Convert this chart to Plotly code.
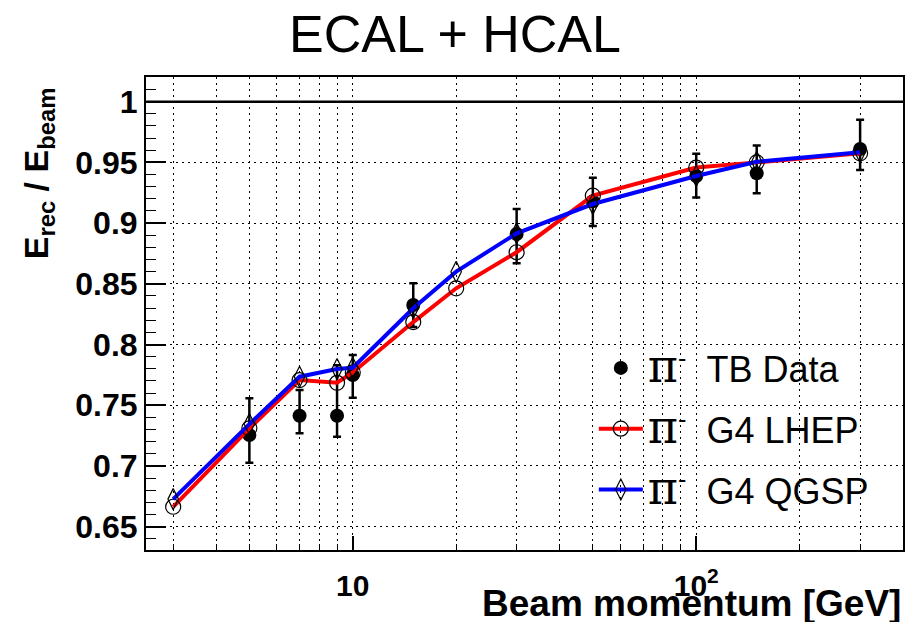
import plotly.graph_objects as go

# ---------------- data ----------------
momentum = [3, 5, 7, 9, 10, 15, 20, 30, 50, 100, 150, 300]

data_p = [5, 7, 9, 10, 15, 30, 50, 100, 150, 300]
data_y = [0.7255, 0.7414, 0.7414, 0.7749, 0.8325, 0.8910, 0.9180, 0.9388, 0.9410, 0.9610]
data_err_plus = [0.0302, 0.0211, 0.0416, 0.0165, 0.0179, 0.0206, 0.0194, 0.0182, 0.0228, 0.0240]
data_err_minus = [0.0229, 0.0144, 0.0174, 0.0187, 0.0180, 0.0241, 0.0204, 0.0178, 0.0165, 0.0173]

lhep_y = [0.6664, 0.7310, 0.7707, 0.7685, 0.7770, 0.8185, 0.8463, 0.8760, 0.9226, 0.9457, 0.9500, 0.9575]
qgsp_y = [0.6727, 0.7345, 0.7735, 0.7799, 0.7809, 0.8298, 0.8600, 0.8916, 0.9157, 0.9388, 0.9505, 0.9583]

x_major = [10, 100]
x_major_text = ["10", "10<sup>2</sup>"]
x_minor = [3, 4, 5, 6, 7, 8, 9, 20, 30, 40, 50, 60, 70, 80, 90, 200, 300]
y_ticks = [0.65, 0.7, 0.75, 0.8, 0.85, 0.9, 0.95, 1.0]
y_ticktext = ["0.65", "0.7", "0.75", "0.8", "0.85", "0.9", "0.95", "1"]

PI = ('<span style="font-family:\'DejaVu Serif\', \'Liberation Serif\', serif;font-size:46px">π</span>'
      '<sup>-</sup>  ')

fig = go.Figure()

fig.add_trace(go.Scatter(
    x=data_p, y=data_y, mode="markers", name=PI + "TB Data",
    legendgroup="a",
    marker=dict(symbol="circle", size=14, color="black"),
    error_y=dict(type="data", symmetric=False, array=data_err_plus, arrayminus=data_err_minus,
                 color="black", thickness=2.5, width=4),
))
fig.add_trace(go.Scatter(
    x=momentum, y=lhep_y, mode="lines+markers", name=PI + "G4 LHEP",
    legendgroup="b",
    line=dict(color="rgb(255,0,0)", width=4),
    marker=dict(symbol="circle-open", size=15, color="black", line=dict(width=1.2, color="black")),
))
fig.add_trace(go.Scatter(
    x=momentum, y=qgsp_y, mode="lines+markers", name=PI + "G4 QGSP",
    legendgroup="c",
    line=dict(color="rgb(0,0,255)", width=4),
    marker=dict(symbol="diamond-tall-open", size=15, color="black", line=dict(width=1.2, color="black")),
))

grid = dict(showgrid=True, gridcolor="black", gridwidth=1, griddash="2px,4px")

fig.update_layout(
    width=910, height=622,
    margin=dict(l=146, r=5, t=77, b=72),
    paper_bgcolor="white", plot_bgcolor="white",
    font=dict(family="Liberation Sans, Arial, Helvetica, sans-serif", color="black"),
    title=dict(text="ECAL + HCAL", x=0.5, xanchor="center", xref="container",
               y=0.945, yanchor="middle", yref="container",
               font=dict(size=52, color="black")),
    showlegend=True,
    legend=dict(x=(595 - 146) / 759, y=(550 - 338) / 473, xanchor="left", yanchor="top",
                bgcolor="rgba(0,0,0,0)", borderwidth=0, traceorder="grouped",
                tracegroupgap=11, font=dict(size=36, color="black"), itemwidth=44),
    xaxis=dict(type="log", range=[0.398, 2.602],
               tickvals=x_major, ticktext=x_major_text, ticks="inside", ticklen=14, tickwidth=1.5,
               tickcolor="black", ticklabelstandoff=8,
               tickfont=dict(size=30, family="Liberation Sans, Arial, sans-serif", weight="bold"),
               showline=True, linecolor="black", linewidth=2, mirror=True, zeroline=False,
               minor=dict(tickvals=x_minor, ticks="inside", ticklen=6, tickwidth=1, tickcolor="black",
                          showgrid=True, gridcolor="black", gridwidth=1, griddash="2px,4px"),
               **grid),
    yaxis=dict(range=[0.6308, 1.0203], tickvals=y_ticks, ticktext=y_ticktext,
               ticks="inside", ticklen=20, tickwidth=1.5, tickcolor="black",
               tickfont=dict(size=32, family="Liberation Sans, Arial, sans-serif", weight="bold"),
               showline=True, linecolor="black", linewidth=2, mirror=True, zeroline=False,
               minor=dict(dtick=0.01, tick0=0.65, ticks="inside", ticklen=10, tickwidth=1,
                          tickcolor="black", showgrid=False),
               **grid),
)

# white legend box covering grid
fig.add_shape(type="rect", xref="paper", yref="paper",
              x0=(573 - 146) / 759, x1=(893 - 146) / 759,
              y0=(550 - 535) / 473, y1=(550 - 350) / 473,
              fillcolor="white", line=dict(width=0), layer="between")
# reference line at unity
fig.add_shape(type="line", xref="paper", yref="y", x0=0, x1=1, y0=1.0, y1=1.0,
              line=dict(color="black", width=2.5), layer="above")

# axis titles
fig.add_annotation(text="<b>E<sub>rec</sub> / E<sub>beam</sub></b>", xref="paper", yref="paper",
                   x=(38 - 146) / 759, y=(550 - 173) / 473, xanchor="center", yanchor="middle",
                   textangle=-90, showarrow=False, font=dict(size=34, color="black"))
fig.add_annotation(text="<b>Beam momentum [GeV]</b>", xref="paper", yref="paper",
                   x=1.0, y=(550 - 603) / 473, xanchor="right", yanchor="middle",
                   showarrow=False, font=dict(size=37, color="black"))

fig.write_html("out.html")
